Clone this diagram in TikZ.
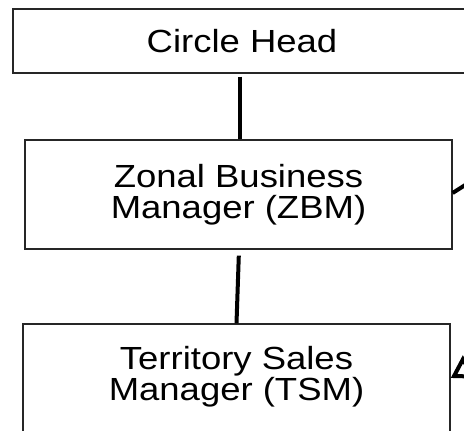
\documentclass[tikz,border=0pt]{standalone}
\usepackage{fontspec}
\setmainfont{Liberation Sans}[FakeStretch=1.14]
\usetikzlibrary{arrows.meta}

\tikzset{
  box/.style={draw=black!85,line width=1.3pt,inner sep=0pt,align=center},
  boxtext/.style={inner sep=0pt,align=center},
  link/.style={line width=4pt},
}

\begin{document}
\begin{tikzpicture}[x=1pt,y=1pt]
\useasboundingbox (0,0) rectangle (464,-431);
\fontsize{32}{31}\selectfont
% the three levels
\node[box,minimum width=458pt,minimum height=64pt] (ch) at (242,-41) {Circle Head};
\node[box,minimum width=427pt,minimum height=109pt] (zbm) at (238.5,-194.5) {Zonal Business\\Manager (ZBM)};
\node[box,minimum width=427pt,minimum height=112pt] (tsm) at (236.5,-380) {};
\node[boxtext] (tsmtext) at (236.5,-377) {Territory Sales\\Manager (TSM)};
% vertical links
\draw[link,shorten <=3pt] ([xshift=-2pt]ch.south) -- ([xshift=1.5pt]zbm.north);
\draw[link,shorten <=6pt] ([xshift=0.5pt]zbm.south) -- (tsm.north);
% links from the right
\coordinate (zbmfar) at ([xshift=40pt,yshift=27pt]zbm.east);
\coordinate (tsmfar) at ([xshift=60pt,yshift=37pt]tsm.east);
\draw[link] (zbmfar) -- ([yshift=1.5pt]zbm.east);
\draw[link,-{Triangle[open,length=22pt,width=26pt]}] (tsmfar) -- ([yshift=2pt]tsm.east);
\end{tikzpicture}
\end{document}
